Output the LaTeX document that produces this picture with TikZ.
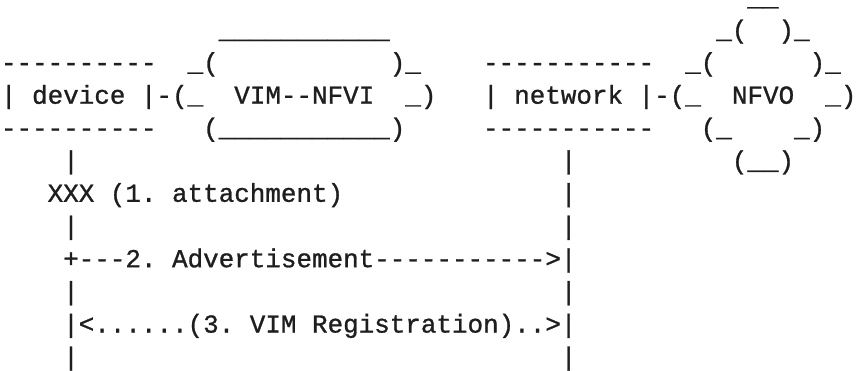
\documentclass[tikz,border=0pt]{standalone}
\usepackage{fontspec}
\setmonofont{Liberation Mono}[FakeBold=1]
\definecolor{ink}{HTML}{1E1E1E}
\tikzset{
  ascii/.style={anchor=base west, inner sep=0pt, outer sep=0pt,
    font=\ttfamily\fontsize{25.92}{32.7}\selectfont, text=ink}
}
\newcommand{\asc}[4]{\node[ascii] (#1) at ({1+15.55*(#2)},{71+32.7*((#3)-3)}) {#4};}
\begin{document}
\begin{tikzpicture}[x=1pt,y=-1pt]
\useasboundingbox (0,0) rectangle (857,370);
% row 1
\asc{nfvoTop}{48}{1}{\_\_}
% row 2
\asc{vimTop}{14}{2}{\_\_\_\_\_\_\_\_\_\_\_}
\asc{nfvoB}{46}{2}{\_(~~)\_}
% row 3
\asc{devTop}{0}{3}{----------}
\asc{vimC}{12}{3}{\_(~~~~~~~~~~~)\_}
\asc{netTop}{31}{3}{-----------}
\asc{nfvoC}{44}{3}{\_(~~~~~~)\_}
% row 4
\asc{mainRow}{0}{4}{|~device~|-(\_~~VIM--NFVI~~\_)~~~|~network~|-(\_~~NFVO~~\_)}
% row 5
\asc{devBot}{0}{5}{----------}
\asc{vimBot}{13}{5}{(\_\_\_\_\_\_\_\_\_\_\_)}
\asc{netBot}{31}{5}{-----------}
\asc{nfvoD}{45}{5}{(\_~~~~\_)}
% row 6
\asc{devL6}{4}{6}{|}
\asc{netL6}{36}{6}{|}
\asc{nfvoE}{47}{6}{(\_\_)}
% row 7
\asc{attach}{3}{7}{XXX~(1.~attachment)}
\asc{netL7}{36}{7}{|}
% row 8
\asc{devL8}{4}{8}{|}
\asc{netL8}{36}{8}{|}
% row 9
\asc{advert}{4}{9}{+---2.~Advertisement----------->|}
% row 10
\asc{devL10}{4}{10}{|}
\asc{netL10}{36}{10}{|}
% row 11
\asc{regist}{4}{11}{|<......(3.~VIM~Registration)..>|}
% row 12
\asc{devL12}{4}{12}{|}
\asc{netL12}{36}{12}{|}
\end{tikzpicture}
\end{document}
